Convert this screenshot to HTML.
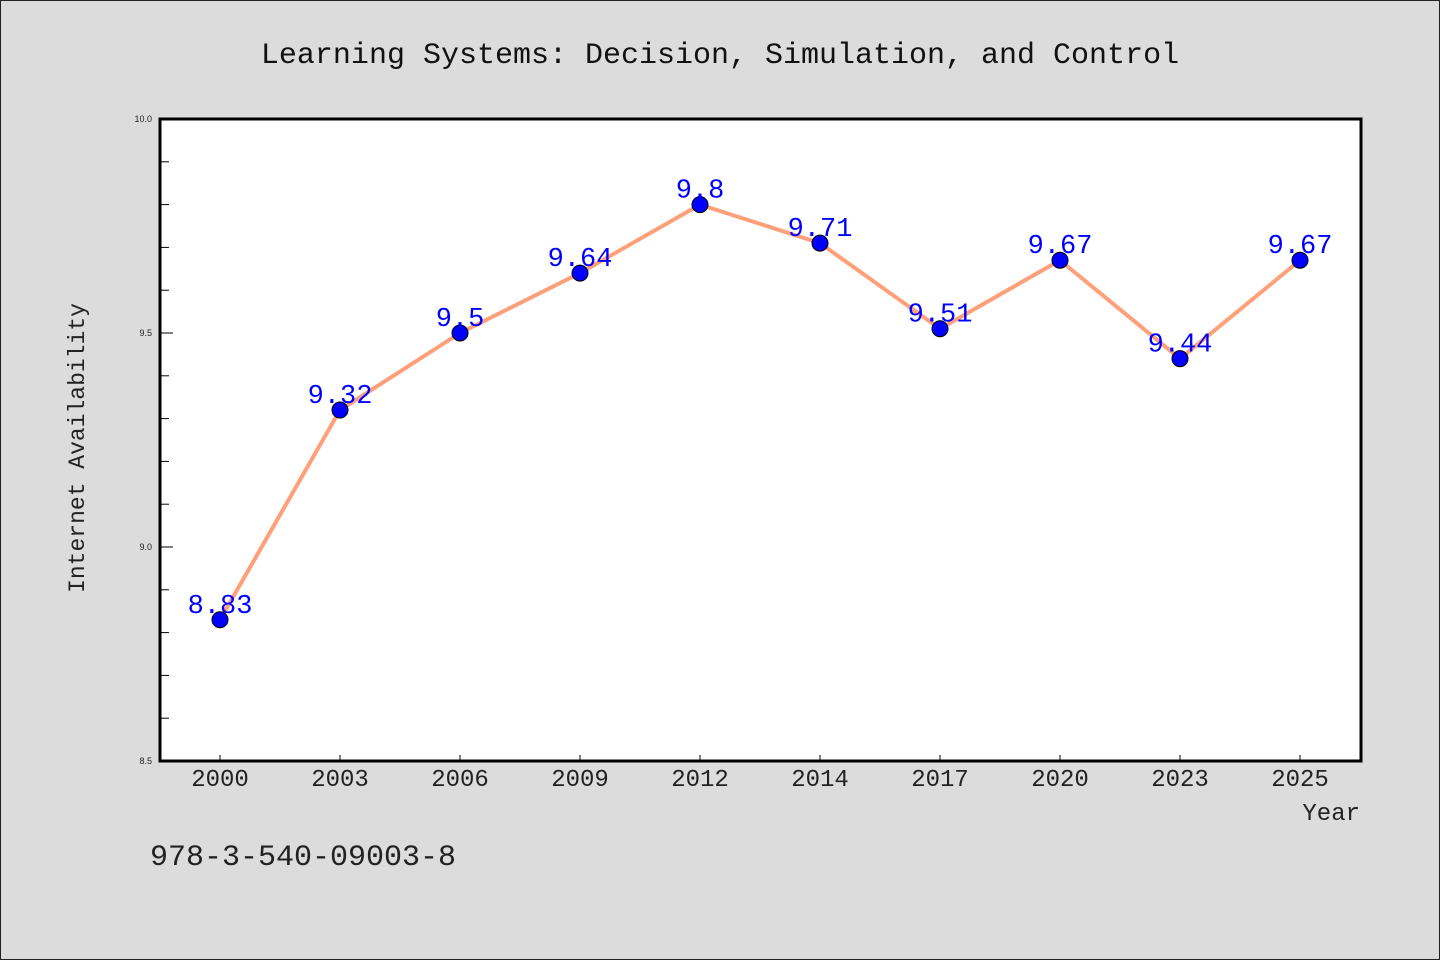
<!DOCTYPE html>
<html><head><meta charset="utf-8"><style>
html,body{margin:0;padding:0;background:#dcdcdc;}
svg{display:block;}
</style></head><body>
<svg id="chart" width="1440" height="960" xmlns="http://www.w3.org/2000/svg">
<rect x="0.5" y="0.5" width="1439" height="959" fill="#dcdcdc" stroke="#222"/>
<text x="720" y="63" text-anchor="middle" font-family="Liberation Mono, monospace" font-size="30" fill="#111">Learning Systems: Decision, Simulation, and Control</text>
<rect x="160" y="119" width="1201" height="642" fill="#fff"/>
<g id="yticks"></g><g id="xticks"></g>
<rect x="160" y="119" width="1201" height="642" fill="none" stroke="#000" stroke-width="3"/>
<g id="series"></g>
<text transform="translate(84,448) rotate(-90)" text-anchor="middle" font-family="Liberation Mono, monospace" font-size="23" fill="#222">Internet Availability</text>
<text x="1360" y="820" text-anchor="end" font-family="Liberation Mono, monospace" font-size="24" fill="#222">Year</text>
<text x="150" y="865" font-family="Liberation Mono, monospace" font-size="30" fill="#222">978-3-540-09003-8</text>
</svg>
<script>
const categories = ["2000","2003","2006","2009","2012","2014","2017","2020","2023","2025"];
const values = [8.83,9.32,9.5,9.64,9.8,9.71,9.51,9.67,9.44,9.67];
const yTickLabels = ["8.5","9.0","9.5","10.0"];
const yMin = 8.5, yMax = 10.0;
const NS="http://www.w3.org/2000/svg";
const L=160,R=1361,T=119,B=761;
function xs(i){return 220+i*(1300-220)/(categories.length-1);}
function ys(v){return B-(v-yMin)/(yMax-yMin)*(B-T);}
function mk(tag,attrs,parent){const e=document.createElementNS(NS,tag);for(const k in attrs)e.setAttribute(k,attrs[k]);parent.appendChild(e);return e;}
const yt=document.getElementById('yticks'),xt=document.getElementById('xticks'),sg=document.getElementById('series');
for(let k=0;k<=15;k++){
  const v=yMin+k*0.1, y=ys(v), major=k%5===0;
  const t=mk('line',{x1:L,x2:L+(major?13:9),y1:y,y2:y,stroke:'#000','stroke-width':1},yt);
  
  
}
yTickLabels.forEach(s=>{
  const t=mk('text',{x:L-8,y:ys(parseFloat(s))+3,'text-anchor':'end','font-family':'Liberation Sans, sans-serif','font-size':9,fill:'#222'},yt);
  t.textContent=s;
  
  
});
categories.forEach((c,i)=>{
  const x=xs(i);
  const t=mk('line',{x1:x,x2:x,y1:B,y2:B-6,stroke:'#000','stroke-width':1},xt);
  
  
  const l=mk('text',{x:x,y:B+25,'text-anchor':'middle','font-family':'Liberation Mono, monospace','font-size':24,fill:'#222'},xt);
  l.textContent=c;
  
  
});
const pl=mk('polyline',{points:values.map((v,i)=>xs(i)+','+ys(v)).join(' '),fill:'none',stroke:'#ffa07a','stroke-width':4,'stroke-linejoin':'round'},sg);


values.forEach((v,i)=>{
  const c=mk('circle',{cx:xs(i),cy:ys(v),r:8,fill:'#0000ff',stroke:'#000','stroke-width':1},sg);
  
  
  const t=mk('text',{x:xs(i),y:ys(v)-7,'text-anchor':'middle','font-family':'Liberation Mono, monospace','font-size':27,fill:'#0000ff'},sg);
  t.textContent=String(v);
  
  
});
</script>
</body></html>
